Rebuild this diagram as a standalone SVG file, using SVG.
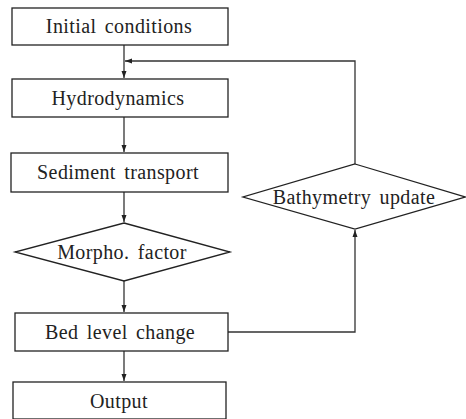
<svg xmlns="http://www.w3.org/2000/svg" width="466" height="419" viewBox="0 0 466 419">
<defs>
<marker id="ah" markerWidth="8" markerHeight="6" refX="7" refY="3" orient="auto" markerUnits="userSpaceOnUse">
<path d="M0,0.5 L7,3 L0,5.5 Z" fill="#222"/>
</marker>
<style>
.n{fill:#fff;stroke:#222;stroke-width:1.3}
.t{font-family:"Liberation Serif","DejaVu Serif",serif;font-size:20px;fill:#222;text-anchor:middle;word-spacing:3px;letter-spacing:0.4px}
.c{fill:none;stroke:#333;stroke-width:1.3}
</style>
</defs>
<rect width="466" height="419" fill="#fff"/>
<g id="connectors">
<path class="c" d="M124,45 V78" marker-end="url(#ah)"/>
<path class="c" d="M355,164 V61 H125" marker-end="url(#ah)"/>
<path class="c" d="M124,117 V152" marker-end="url(#ah)"/>
<path class="c" d="M124,192 V222" marker-end="url(#ah)"/>
<path class="c" d="M124,281 V312" marker-end="url(#ah)"/>
<path class="c" d="M124,351 V381" marker-end="url(#ah)"/>
<path class="c" d="M228,332 H355 V230" marker-end="url(#ah)"/>
</g>
<g id="initial">
<rect class="n" x="12" y="8" width="216" height="37"/>
<text class="t" x="119" y="33">Initial conditions</text>
</g>
<g id="hydro">
<rect class="n" x="12" y="79" width="216" height="38"/>
<text class="t" x="118" y="105">Hydrodynamics</text>
</g>
<g id="sediment">
<rect class="n" x="11" y="153" width="217" height="39"/>
<text class="t" x="118" y="179">Sediment transport</text>
</g>
<g id="morpho">
<polygon class="n" points="124,223 230,252 124,281 15,252"/>
<text class="t" x="122" y="259">Morpho. factor</text>
</g>
<g id="bedlevel">
<rect class="n" x="15" y="313" width="213" height="38"/>
<text class="t" x="120" y="339">Bed level change</text>
</g>
<g id="output">
<rect class="n" x="13" y="382" width="213" height="37"/>
<text class="t" x="119" y="408">Output</text>
</g>
<g id="bathymetry">
<polygon class="n" points="355,164 465,197 355,229 243,197"/>
<text class="t" x="354" y="204">Bathymetry update</text>
</g>
</svg>
